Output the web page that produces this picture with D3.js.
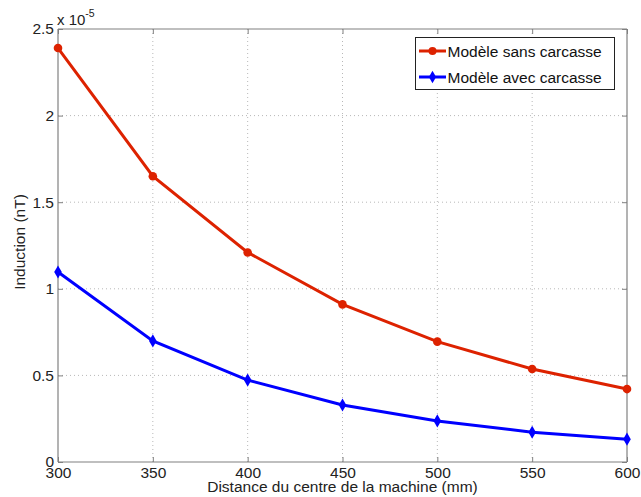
<!DOCTYPE html>
<html><head><meta charset="utf-8">
<script src="https://cdn.jsdelivr.net/npm/d3@7"></script>
<style>body{margin:0;background:#fff}svg{display:block}text{font-family:"Liberation Sans",Arial,sans-serif}</style>
</head><body>
<script>
const distances = [300, 350, 400, 450, 500, 550, 600];
const sansCarcasse = [2.39, 1.65, 1.21, 0.91, 0.695, 0.537, 0.421];
const avecCarcasse = [1.097, 0.699, 0.473, 0.329, 0.237, 0.172, 0.132];
const xTicks = [300, 350, 400, 450, 500, 550, 600];
const yTicks = [0, 0.5, 1, 1.5, 2, 2.5];
const yTickLabels = ["0", "0.5", "1", "1.5", "2", "2.5"];
const seriesNames = ["Modèle sans carcasse", "Modèle avec carcasse"];

const W = 641, H = 497;
const L = 58, R = 627, T = 29, B = 462;
const svg = d3.select("body").append("svg").attr("width", W).attr("height", H);
const x = d3.scaleLinear().domain([300, 600]).range([L, R]);
const y = d3.scaleLinear().domain([0, 2.5]).range([B, T]);
const axisCol = "#808080";
const fs = 15.5;

// grid
const g = svg.append("g");
xTicks.slice(1, -1).forEach(t => {
  g.append("line").attr("x1", x(t)).attr("x2", x(t)).attr("y1", T).attr("y2", B)
    .attr("stroke", "#b8b8b8").attr("stroke-width", 1).attr("stroke-dasharray", "1,3");
});
yTicks.slice(1, -1).forEach(t => {
  g.append("line").attr("x1", L).attr("x2", R).attr("y1", y(t)).attr("y2", y(t))
    .attr("stroke", "#b8b8b8").attr("stroke-width", 1).attr("stroke-dasharray", "1,3");
});

// axes
const xAxisB = d3.axisBottom(x).tickValues(xTicks).tickSize(-5).tickPadding(5).tickFormat(d3.format("d"));
const xAxisT = d3.axisTop(x).tickValues(xTicks).tickSize(-5).tickFormat("");
const yAxisL = d3.axisLeft(y).tickValues(yTicks).tickSize(-5).tickPadding(4).tickFormat((d, i) => yTickLabels[i]);
const yAxisR = d3.axisRight(y).tickValues(yTicks).tickSize(-5).tickFormat("");
function style(sel) {
  sel.selectAll("path").attr("stroke", axisCol).attr("stroke-width", 1.2);
  sel.selectAll("line").attr("stroke", axisCol);
  sel.selectAll("text").attr("fill", "#222").style("font-size", fs + "px").style("font-family", '"Liberation Sans",Arial,sans-serif');
}
svg.append("g").attr("transform", `translate(0,${B})`).call(xAxisB).call(style).call(s => s.select(".domain").attr("d", `M${L},0H${R}`));
svg.append("g").attr("transform", `translate(0,${T})`).call(xAxisT).call(style).call(s => s.select(".domain").attr("d", `M${L},0H${R}`));
svg.append("g").attr("transform", `translate(${L},0)`).call(yAxisL).call(style).call(s => s.select(".domain").attr("d", `M0,${T}V${B}`));
svg.append("g").attr("transform", `translate(${R},0)`).call(yAxisR).call(style).call(s => s.select(".domain").attr("d", `M0,${T}V${B}`));

// exponent
const ex = svg.append("text").attr("x", L - 1).attr("y", 25).attr("fill", "#222").style("font-size", "15px");
ex.append("tspan").text("x 10");
ex.append("tspan").attr("dy", -8).style("font-size", "10.5px").text("-5");

// lines
const colors = ["#dd2200", "#0000ff"];
const data = [sansCarcasse, avecCarcasse];
const line = d3.line().x((d, i) => x(distances[i])).y(d => y(d));
data.forEach((vals, k) => {
  svg.append("path").attr("d", line(vals)).attr("fill", "none").attr("stroke", colors[k]).attr("stroke-width", 3);
  vals.forEach((v, i) => {
    if (k === 0) {
      svg.append("circle").attr("cx", x(distances[i])).attr("cy", y(v)).attr("r", 4.3).attr("fill", colors[k]);
    } else {
      svg.append("path").attr("d", d3.symbol(d3.symbolDiamond, 50)()).attr("transform", `translate(${x(distances[i])},${y(v)})`).attr("fill", colors[k]);
    }
  });
});

// legend
const lg = svg.append("g");
lg.append("rect").attr("x", 415.5).attr("y", 37.5).attr("width", 199).attr("height", 52).attr("fill", "#fff").attr("stroke", "#222").attr("stroke-width", 1);
seriesNames.forEach((n, k) => {
  const yy = 51 + k * 26;
  lg.append("line").attr("x1", 419).attr("x2", 446).attr("y1", yy).attr("y2", yy).attr("stroke", colors[k]).attr("stroke-width", 3);
  if (k === 0) lg.append("circle").attr("cx", 432.5).attr("cy", yy).attr("r", 4).attr("fill", colors[k]);
  else lg.append("path").attr("d", d3.symbol(d3.symbolDiamond, 45)()).attr("transform", `translate(432.5,${yy})`).attr("fill", colors[k]);
  lg.append("text").attr("x", 447.5).attr("y", yy + 6).attr("fill", "#111").style("font-size", "15.5px").text(n);
});

// labels
svg.append("text").attr("x", (L + R) / 2).attr("y", 492).attr("text-anchor", "middle").attr("fill", "#222").style("font-size", "15.5px").text("Distance du centre de la machine (mm)");
svg.append("text").attr("transform", `translate(25,242) rotate(-90)`).attr("text-anchor", "middle").attr("fill", "#222").style("font-size", "15.5px").text("Induction (nT)");
</script>
</body></html>
